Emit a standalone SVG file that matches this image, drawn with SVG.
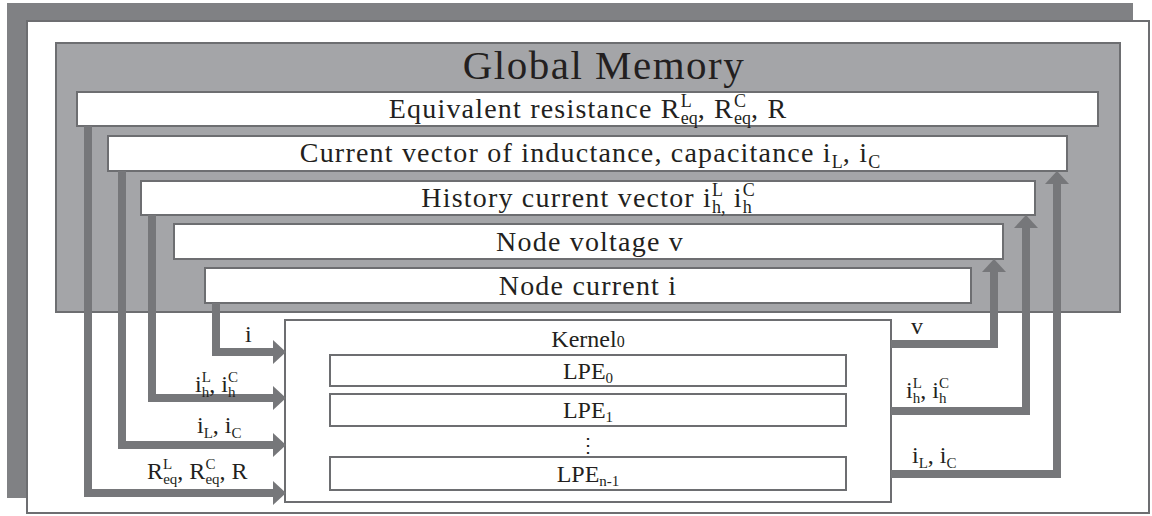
<svg xmlns="http://www.w3.org/2000/svg" width="1152" height="516" viewBox="0 0 1152 516">
<style>
text{font-family:"Liberation Serif","Times New Roman",serif;fill:#231f20}
.title{font-size:41px;letter-spacing:1.5px;text-anchor:middle}
.bar{font-size:28px;letter-spacing:1.2px;text-anchor:middle}
.s{font-size:18px;letter-spacing:0}
.lbl{font-size:24px}
.ls{font-size:15px}
.kt{font-size:24px;text-anchor:middle}
.box{fill:#fff;stroke:#6d6e71;stroke-width:2}
.conn{fill:none;stroke:#76777a;stroke-width:8;stroke-linejoin:miter;marker-end:url(#ah)}
</style>
<defs>
<marker id="ah" viewBox="0 0 13 24" refX="0" refY="12" markerWidth="13" markerHeight="24" markerUnits="userSpaceOnUse" orient="auto">
<path d="M0,0 L13,12 L0,24 Z" fill="#76777a"/>
</marker>
</defs>
<g id="frame">
<rect x="7" y="3" width="1126" height="495" fill="#808184"/>
<rect x="27" y="21" width="1122" height="492" fill="#fff" stroke="#6d6e71" stroke-width="2"/>
</g>
<g id="global-memory">
<rect x="56" y="43" width="1064" height="269" fill="#a4a5a8" stroke="#6d6e71" stroke-width="2"/>
<text class="title" x="604" y="79">Global Memory</text>
</g>
<g id="bar-req">
<rect class="box" x="77" y="92" width="1021" height="34"/>
<text class="bar" x="588" y="118">Equivalent resistance R<tspan class="s" dy="-11">L</tspan><tspan class="s" dx="-11" dy="17">eq</tspan><tspan dy="-6">, R</tspan><tspan class="s" dy="-11">C</tspan><tspan class="s" dx="-12" dy="17">eq</tspan><tspan dy="-6">, R</tspan></text>
</g>
<g id="bar-current">
<rect class="box" x="108" y="136" width="959" height="35"/>
<text class="bar" x="590" y="162">Current vector of inductance, capacitance i<tspan class="s" dy="6">L</tspan><tspan dy="-6">, i</tspan><tspan class="s" dy="6">C</tspan></text>
</g>
<g id="bar-history">
<rect class="box" x="141" y="181" width="894" height="34"/>
<text class="bar" x="588" y="207">History current vector i<tspan class="s" dy="-11">L</tspan><tspan class="s" dx="-11" dy="17">h,</tspan><tspan dy="-6"> i</tspan><tspan class="s" dy="-11">C</tspan><tspan class="s" dx="-12" dy="17">h</tspan></text>
</g>
<g id="bar-voltage">
<rect class="box" x="174" y="224" width="829" height="35"/>
<text class="bar" x="590" y="251">Node voltage v</text>
</g>
<g id="bar-node-current">
<rect class="box" x="205" y="268" width="766" height="35"/>
<text class="bar" x="588" y="295">Node current i</text>
</g>
<g id="kernel">
<rect class="box" x="285" y="320" width="606" height="182"/>
<text class="kt" x="588" y="347">Kernel<tspan font-size="16">0</tspan></text>
</g>
<g id="lpe0">
<rect class="box" x="330" y="355" width="516" height="31"/>
<text class="kt" x="588" y="379">LPE<tspan font-size="15" dy="4">0</tspan></text>
</g>
<g id="lpe1">
<rect class="box" x="330" y="394" width="516" height="32"/>
<text class="kt" x="588" y="418">LPE<tspan font-size="15" dy="4">1</tspan></text>
</g>
<text x="588" y="452" font-size="20" text-anchor="middle" style="font-family:'DejaVu Serif',serif">⋮</text>
<g id="lpen">
<rect class="box" x="330" y="457" width="516" height="33"/>
<text class="kt" x="588" y="482">LPE<tspan font-size="15" dy="4">n-1</tspan></text>
</g>
<g id="connectors">
<polyline class="conn" points="88,126 88,493 273,493"/>
<polyline class="conn" points="122,171 122,445 273,445"/>
<polyline class="conn" points="152,215 152,398 273,398"/>
<polyline class="conn" points="216,303 216,352 273,352"/>
<polyline class="conn" points="891,344 994,344 994,272"/>
<polyline class="conn" points="891,411 1026,411 1026,228"/>
<polyline class="conn" points="891,474 1057,474 1057,184"/>
</g>
<g id="labels">
<text class="lbl" x="245" y="342">i</text>
<text class="lbl" x="195" y="392">i<tspan class="ls" dy="-10">L</tspan><tspan class="ls" dx="-9" dy="15">h</tspan><tspan dy="-5">, i</tspan><tspan class="ls" dy="-10">C</tspan><tspan class="ls" dx="-10" dy="15">h</tspan></text>
<text class="lbl" x="197" y="433">i<tspan class="ls" dy="5">L</tspan><tspan dy="-5">, i</tspan><tspan class="ls" dy="5">C</tspan></text>
<text class="lbl" x="147" y="479">R<tspan class="ls" dy="-10">L</tspan><tspan class="ls" dx="-9" dy="15">eq</tspan><tspan dy="-5">, R</tspan><tspan class="ls" dy="-10">C</tspan><tspan class="ls" dx="-10" dy="15">eq</tspan><tspan dy="-5">, R</tspan></text>
<text class="lbl" x="911" y="334">v</text>
<text class="lbl" x="906" y="398">i<tspan class="ls" dy="-10">L</tspan><tspan class="ls" dx="-9" dy="15">h</tspan><tspan dy="-5">, i</tspan><tspan class="ls" dy="-10">C</tspan><tspan class="ls" dx="-10" dy="15">h</tspan></text>
<text class="lbl" x="912" y="463">i<tspan class="ls" dy="5">L</tspan><tspan dy="-5">, i</tspan><tspan class="ls" dy="5">C</tspan></text>
</g>
</svg>
